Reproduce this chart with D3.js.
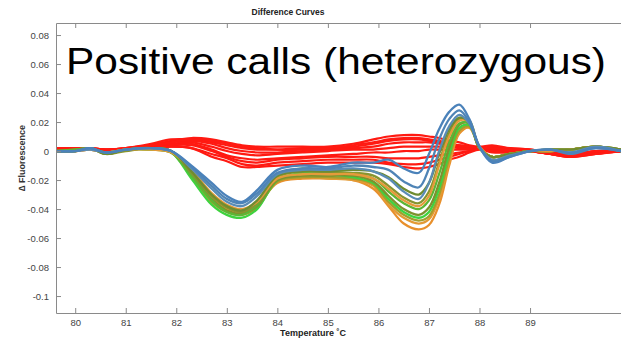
<!DOCTYPE html>
<html><head><meta charset="utf-8">
<script src="https://cdn.jsdelivr.net/npm/d3@7"></script>
<style>body{margin:0;background:#fff;}svg{display:block;font-family:"Liberation Sans",Arial,sans-serif;}</style>
</head><body>
<svg id="c" width="621" height="345"></svg>
<script>
// temperatures (°C) at which each curve was read
const temps = [79.6,80.0,80.3,80.6,81.0,81.5,81.9,82.3,82.7,83.0,83.3,83.6,84.0,84.5,85.0,85.5,85.9,86.2,86.5,86.8,87.0,87.2,87.4,87.6,87.8,88.0,88.25,88.6,89.0,89.4,89.8,90.3,90.8];

// red curves (negative / wild-type calls)
const R1 = [0.001,0.001,0.002,0.001,0.002,0.004,0.007,0.009,0.008,0.006,0.004,0.003,0.003,0.003,0.003,0.005,0.008,0.010,0.011,0.011,0.010,0.009,0.007,0.006,0.004,0.003,0.004,0.002,0.001,-0.001,-0.002,0.000,0.000];
const R2 = [0.002,0.002,0.002,0.001,0.002,0.005,0.008,0.008,0.006,0.004,0.002,0.001,0.001,0.002,0.002,0.003,0.005,0.007,0.008,0.008,0.007,0.006,0.005,0.004,0.003,0.002,0.003,0.002,0.001,-0.001,-0.003,0.000,0.000];
const R3 = [0.001,0.001,0.001,0.000,0.001,0.003,0.006,0.007,0.005,0.002,0.000,-0.001,-0.001,0.000,0.001,0.002,0.003,0.005,0.006,0.006,0.006,0.005,0.004,0.003,0.002,0.002,0.002,0.001,0.000,-0.001,-0.003,-0.001,0.000];
const R4 = [0.001,0.002,0.002,0.001,0.002,0.004,0.005,0.006,0.003,0.000,-0.002,-0.003,-0.002,-0.001,0.000,0.001,0.001,0.002,0.003,0.003,0.003,0.003,0.003,0.002,0.002,0.002,0.001,0.001,0.000,-0.002,-0.004,-0.001,0.000];
const R5 = [0.000,0.001,0.001,0.000,0.001,0.003,0.004,0.005,0.001,-0.003,-0.005,-0.006,-0.005,-0.004,-0.003,-0.002,-0.001,-0.001,0.000,0.000,0.001,0.001,0.001,0.001,0.001,0.002,0.001,0.000,0.000,-0.002,-0.003,-0.001,0.000];
const R6 = [0.001,0.001,0.001,0.000,0.001,0.002,0.004,0.004,0.000,-0.004,-0.007,-0.008,-0.006,-0.005,-0.004,-0.004,-0.004,-0.005,-0.005,-0.005,-0.004,-0.003,-0.002,-0.001,0.000,0.002,0.000,0.000,0.000,-0.002,-0.004,-0.002,0.000];
const R7 = [0.001,0.001,0.001,0.001,0.001,0.002,0.003,0.002,-0.002,-0.005,-0.009,-0.010,-0.008,-0.007,-0.006,-0.006,-0.006,-0.008,-0.009,-0.009,-0.008,-0.006,-0.004,-0.002,0.000,0.002,0.000,-0.001,0.000,-0.002,-0.004,-0.002,0.000];
const R8 = [0.001,0.001,0.001,0.000,0.001,0.002,0.003,0.002,-0.004,-0.007,-0.011,-0.011,-0.010,-0.009,-0.008,-0.008,-0.008,-0.009,-0.011,-0.012,-0.011,-0.009,-0.006,-0.004,-0.001,0.001,-0.001,-0.001,0.000,-0.002,-0.003,-0.002,0.000];
const R9 = [0.001,0.002,0.002,0.001,0.002,0.004,0.006,0.008,0.007,0.005,0.003,0.002,0.001,0.001,0.002,0.004,0.006,0.008,0.009,0.009,0.008,0.007,0.005,0.004,0.003,0.002,0.002,0.001,0.001,-0.001,-0.002,0.000,0.000];
const redCurves = [R1,R2,R3,R4,R5,R6,R7,R8,R9];

// coloured curves (positive heterozygous calls)
const O1 = [0.000,0.000,0.001,-0.001,0.001,0.001,-0.001,-0.013,-0.030,-0.039,-0.041,-0.037,-0.022,-0.019,-0.019,-0.020,-0.026,-0.038,-0.050,-0.054,-0.051,-0.037,-0.010,0.012,0.016,0.003,-0.004,-0.002,0.000,0.000,0.001,0.003,0.000];
const O2 = [0.000,0.000,0.001,-0.001,0.001,0.001,-0.001,-0.014,-0.031,-0.040,-0.042,-0.038,-0.021,-0.018,-0.019,-0.020,-0.024,-0.037,-0.046,-0.050,-0.047,-0.033,-0.008,0.013,0.018,0.003,-0.004,-0.002,0.000,0.000,0.001,0.003,0.000];
const L3 = [0.000,0.000,0.002,-0.002,0.001,0.002,0.000,-0.017,-0.035,-0.042,-0.044,-0.039,-0.021,-0.018,-0.018,-0.019,-0.023,-0.035,-0.044,-0.048,-0.045,-0.030,-0.005,0.014,0.017,0.002,-0.004,-0.002,0.000,0.001,0.001,0.003,0.001];
const G1 = [0.000,0.001,0.002,-0.001,0.001,0.001,-0.001,-0.019,-0.037,-0.044,-0.046,-0.040,-0.020,-0.015,-0.016,-0.018,-0.022,-0.033,-0.042,-0.046,-0.042,-0.026,-0.002,0.016,0.018,0.002,-0.004,-0.002,0.000,0.000,0.001,0.003,0.000];
const L1 = [0.000,0.000,0.002,-0.002,0.001,0.002,0.000,-0.016,-0.033,-0.041,-0.043,-0.038,-0.020,-0.017,-0.017,-0.017,-0.021,-0.031,-0.040,-0.044,-0.039,-0.022,0.002,0.018,0.019,0.002,-0.004,-0.002,0.000,0.001,0.001,0.003,0.001];
const G2 = [0.000,0.001,0.002,-0.001,0.001,0.002,-0.001,-0.017,-0.034,-0.042,-0.044,-0.037,-0.017,-0.012,-0.014,-0.016,-0.019,-0.028,-0.036,-0.040,-0.034,-0.016,0.006,0.019,0.019,0.002,-0.004,-0.002,0.000,0.000,0.001,0.003,0.000];
const L2 = [0.000,0.000,0.002,-0.002,0.000,0.002,0.000,-0.015,-0.031,-0.039,-0.042,-0.036,-0.018,-0.014,-0.015,-0.015,-0.017,-0.024,-0.032,-0.036,-0.028,-0.008,0.012,0.022,0.021,0.002,-0.004,-0.002,0.000,0.001,0.001,0.003,0.001];
const O3 = [0.000,0.000,0.001,-0.001,0.001,0.001,-0.001,-0.013,-0.029,-0.037,-0.040,-0.035,-0.019,-0.016,-0.016,-0.016,-0.019,-0.026,-0.034,-0.038,-0.031,-0.010,0.010,0.021,0.020,0.002,-0.004,-0.002,0.000,0.000,0.001,0.003,0.000];
const L4 = [0.000,0.000,0.002,-0.002,0.001,0.002,0.000,-0.014,-0.030,-0.038,-0.041,-0.034,-0.017,-0.014,-0.014,-0.013,-0.014,-0.018,-0.026,-0.030,-0.022,-0.002,0.015,0.023,0.020,0.002,-0.004,-0.002,0.000,0.001,0.001,0.003,0.001];
const B3 = [0.000,0.000,0.001,-0.001,0.001,0.002,0.000,-0.012,-0.026,-0.035,-0.038,-0.031,-0.016,-0.013,-0.013,-0.012,-0.014,-0.019,-0.028,-0.033,-0.022,0.000,0.017,0.025,0.019,0.003,-0.006,-0.003,0.000,0.001,-0.001,0.003,0.000];
const B2 = [0.000,0.000,0.002,-0.001,0.001,0.002,0.000,-0.011,-0.024,-0.033,-0.036,-0.029,-0.015,-0.012,-0.012,-0.010,-0.011,-0.013,-0.021,-0.025,-0.012,0.008,0.022,0.028,0.020,0.003,-0.007,-0.004,0.000,0.001,-0.002,0.002,0.000];
const B1 = [0.000,0.000,0.002,-0.001,0.001,0.002,0.000,-0.010,-0.022,-0.031,-0.035,-0.027,-0.013,-0.010,-0.011,-0.008,-0.008,-0.006,-0.012,-0.015,-0.002,0.015,0.027,0.032,0.022,0.003,-0.008,-0.004,0.000,0.001,-0.001,0.002,0.000];
const posCurves = [O1,O2,L3,G1,L1,G2,L2,O3,L4,B3,B2,B1];
const posColors = ["#e8902c","#e39a34","#a39e2c","#3fd23f","#7d922e","#5cb535","#87952f","#e59a3a","#6f8c30","#5a8cb5","#4f84b6","#4b82ba"];

// axes
const xTicks = [80,81,82,83,84,85,86,87,88,89];
const yTicks = [0.08,0.06,0.04,0.02,0,-0.02,-0.04,-0.06,-0.08,-0.1];
const yTickLabels = ["0.08","0.06","0.04","0.02","0","-0.02","-0.04","-0.06","-0.08","-0.1"];

const svg = d3.select("#c");
const x = d3.scaleLinear().domain([79.62, 90.8]).range([56, 621]);
const y = d3.scaleLinear().domain([-0.1117, 0.0883]).range([313, 23]);

svg.append("defs").append("clipPath").attr("id","clip")
  .append("rect").attr("x",x(79.62)).attr("y",y(0.0883))
  .attr("width",x(90.8)-x(79.62)).attr("height",y(-0.1117)-y(0.0883));

const line = d3.line().x((d,i)=>x(temps[i])).y(d=>y(d)).curve(d3.curveCatmullRom.alpha(0.5));

const plot = svg.append("g").attr("clip-path","url(#clip)");
plot.selectAll("path.red").data(redCurves).join("path").attr("class","red")
  .attr("d",line).attr("fill","none").attr("stroke","#ff1a12").attr("stroke-width",2.2)
  .attr("stroke-linejoin","round").attr("stroke-linecap","round");
plot.selectAll("path.pos").data(posCurves).join("path").attr("class","pos")
  .attr("d",line).attr("fill","none").attr("stroke",(d,i)=>posColors[i]).attr("stroke-width",2.3)
  .attr("stroke-linejoin","round").attr("stroke-linecap","round");

function styleAxis(g){
  g.selectAll(".domain").attr("stroke","#8a8a8a");
  g.selectAll(".tick line").attr("stroke","#8a8a8a");
  g.selectAll(".tick text").attr("fill","#444").style("font-size","9.5px").style("font-family",'"Liberation Sans",Arial,sans-serif');
}
svg.append("g").attr("transform",`translate(${x(79.62)},0)`)
  .call(d3.axisLeft(y).tickValues(yTicks).tickFormat((d,i)=>yTickLabels[i]).tickSize(-5).tickSizeOuter(0).tickPadding(7))
  .call(styleAxis);
svg.append("g").attr("transform",`translate(0,${y(-0.1117)})`)
  .call(d3.axisBottom(x).tickValues(xTicks).tickFormat(d=>String(d)).tickSize(-5).tickSizeOuter(0).tickPadding(6))
  .call(styleAxis);
svg.append("g").attr("transform",`translate(0,${y(0.0883)})`)
  .call(d3.axisTop(x).tickValues(xTicks).tickFormat("").tickSize(-5).tickSizeOuter(0))
  .call(styleAxis);

// titles
svg.append("text").attr("x",288).attr("y",15).attr("text-anchor","middle")
  .style("font-size","8.5px").style("font-weight","bold").attr("fill","#222").text("Difference Curves");
svg.append("text").attr("x",313).attr("y",336).attr("text-anchor","middle")
  .style("font-size","9px").style("font-weight","bold").attr("fill","#222").text("Temperature ˚C");
svg.append("text").attr("transform","translate(25,158) rotate(-90)").attr("text-anchor","middle")
  .style("font-size","9px").style("font-weight","bold").attr("fill","#333").text("∆ Fluorescence");

// overlay annotation
svg.append("text").attr("x",66).attr("y",73.5)
  .attr("textLength",540).attr("lengthAdjust","spacingAndGlyphs")
  .style("font-size","37px").attr("fill","#000").text("Positive calls (heterozygous)");
</script>
</body></html>
